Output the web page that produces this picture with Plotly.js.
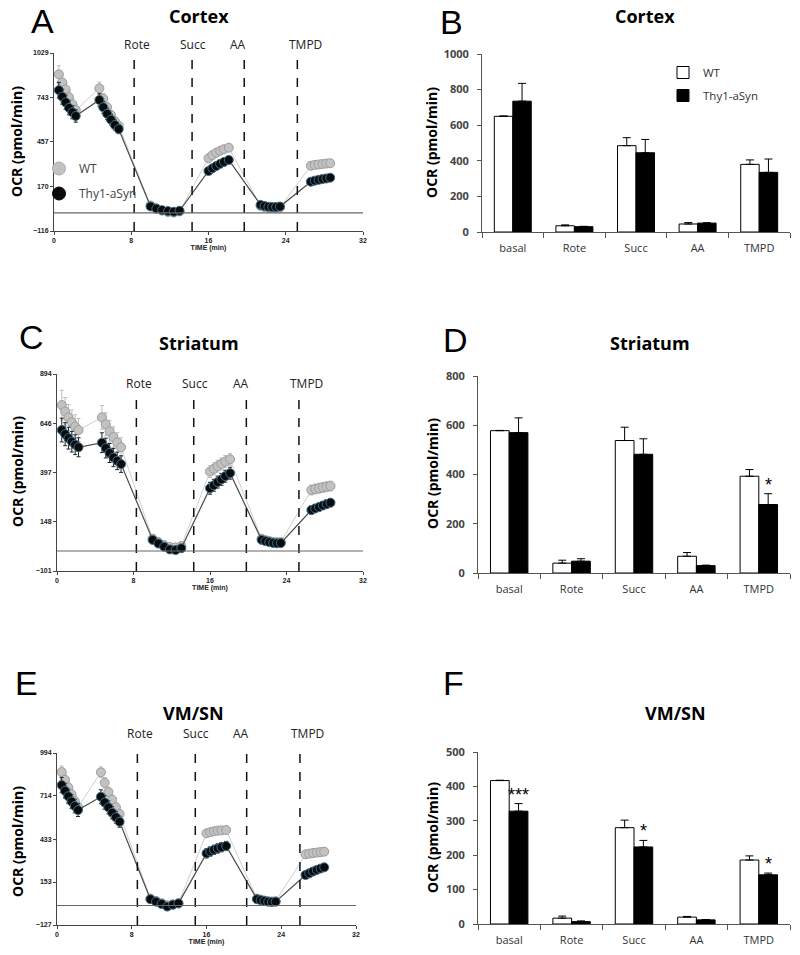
<!DOCTYPE html>
<html>
<head>
<meta charset="utf-8">
<script src="https://cdn.plot.ly/plotly-3.0.1.min.js"></script>
<style>
  body { margin: 0; background: #fff; }
  #plotDiv { width: 800px; height: 955px; }
</style>
</head>
<body>
<div id="plotDiv"></div>
<script>
// ---- time course data (Seahorse OCR, pmol/min) ----
const timeMin = [
    0.5, 0.85, 1.2, 1.55, 1.9, 2.25,
    4.7, 5.1, 5.5, 5.9, 6.3, 6.7,
    10.0, 10.6, 11.2, 11.8, 12.4, 13.0,
    16.0, 16.4, 16.8, 17.2, 17.6, 18.1,
    21.4, 21.8, 22.2, 22.6, 23.0, 23.4,
    26.6, 27.0, 27.4, 27.8, 28.2, 28.6
];

const cortexWT = [
    892, 840, 795, 745, 700, 662,
    802, 735, 680, 630, 590, 562,
    48, 30, 15, 6, 3, 10,
    352, 372, 388, 400, 410, 420,
    45, 38, 34, 32, 33, 36,
    304, 309, 312, 315, 318, 320
];
const cortexWTerr = [
    55, 45, 40, 38, 36, 35,
    40, 35, 32, 30, 28, 26,
    12, 10, 10, 10, 10, 10,
    15, 15, 15, 15, 15, 15,
    10, 10, 10, 10, 10, 10,
    18, 18, 18, 18, 18, 18
];
const cortexTg = [
    790, 748, 712, 676, 648, 624,
    727, 680, 638, 600, 566, 540,
    42, 28, 18, 12, 8, 14,
    270, 287, 302, 316, 328, 341,
    52, 45, 40, 38, 38, 41,
    201, 208, 213, 218, 222, 227
];
const cortexTgErr = [
    50, 48, 45, 45, 42, 40,
    40, 38, 36, 34, 32, 30,
    12, 12, 12, 12, 12, 12,
    15, 15, 15, 15, 15, 15,
    10, 10, 10, 10, 10, 10,
    12, 12, 12, 12, 12, 12
];

const striatumWT = [
    737, 705, 675, 650, 628, 611,
    675, 640, 605, 575, 548, 524,
    62, 45, 30, 20, 18, 25,
    401, 415, 428, 440, 452, 463,
    62, 55, 50, 46, 44, 45,
    308, 313, 317, 321, 325, 328
];
const striatumWTerr = [
    75, 70, 65, 62, 60, 58,
    60, 58, 55, 52, 50, 48,
    20, 20, 20, 20, 20, 20,
    30, 30, 30, 30, 30, 30,
    15, 15, 15, 15, 15, 15,
    25, 25, 25, 25, 25, 25
];
const striatumTg = [
    611, 590, 570, 552, 537, 524,
    547, 520, 495, 472, 455, 439,
    56, 38, 22, 8, 5, 14,
    317, 332, 348, 362, 378, 393,
    56, 50, 45, 41, 39, 40,
    207, 215, 222, 230, 237, 244
];
const striatumTgErr = [
    60, 58, 55, 52, 50, 48,
    50, 50, 48, 46, 44, 42,
    15, 15, 15, 15, 15, 15,
    30, 30, 30, 30, 30, 30,
    12, 12, 12, 12, 12, 12,
    20, 20, 20, 20, 20, 20
];

const vmsnWT = [
    870, 820, 770, 725, 680, 642,
    868, 800, 740, 690, 640, 596,
    45, 30, 15, 2, 8, 14,
    471, 478, 484, 488, 490, 492,
    45, 38, 32, 28, 26, 28,
    334, 338, 342, 345, 348, 351
];
const vmsnWTerr = [
    40, 38, 36, 35, 34, 33,
    35, 34, 32, 30, 30, 28,
    15, 15, 15, 15, 15, 15,
    20, 20, 20, 20, 20, 20,
    12, 12, 12, 12, 12, 12,
    25, 25, 25, 25, 25, 25
];
const vmsnTg = [
    785, 748, 712, 678, 648, 622,
    709, 672, 640, 605, 575, 546,
    41, 25, 10, -7, 5, 14,
    340, 352, 363, 372, 380, 388,
    41, 35, 30, 25, 23, 25,
    199, 210, 222, 232, 241, 249
];
const vmsnTgErr = [
    50, 48, 46, 45, 44, 42,
    45, 44, 42, 40, 38, 36,
    12, 12, 12, 12, 12, 12,
    30, 30, 30, 30, 30, 30,
    10, 10, 10, 10, 10, 10,
    12, 12, 12, 12, 12, 12
];

// injection times (min) and labels
const injectLabels = ['Rote', 'Succ', 'AA', 'TMPD'];
const injectCortex = [8.3, 14.3, 19.7, 25.2];
const injectStriatum = [8.3, 14.3, 19.8, 25.3];
const injectVmsn = [8.6, 14.8, 20.3, 26.0];

// ---- bar chart data ----
const categories = ['basal', 'Rote', 'Succ', 'AA', 'TMPD'];

const barCortexWT = [650, 35, 485, 45, 380];
const barCortexWTerr = [2, 5, 45, 8, 25];
const barCortexTg = [735, 30, 445, 50, 335];
const barCortexTgErr = [100, 2, 75, 2, 75];

const barStriatumWT = [578, 40, 538, 68, 393];
const barStriatumWTerr = [1, 12, 54, 15, 27];
const barStriatumTg = [570, 48, 482, 30, 278];
const barStriatumTgErr = [60, 10, 63, 2, 44];
const starsStriatum = ['', '', '', '', '*'];

const barVmsnWT = [417, 17, 280, 20, 186];
const barVmsnWTerr = [1, 6, 22, 2, 12];
const barVmsnTg = [328, 7, 224, 12, 143];
const barVmsnTgErr = [22, 2, 19, 1, 5];
const starsVmsn = ['***', '', '*', '', '*'];

// ---- page geometry helpers (pixel -> paper) ----
const W = 800, H = 955;
function px(x) { return x / W; }
function py(y) { return 1 - y / H; }

const WT_GRAY = '#c2c2c2';
const TG_BLACK = '#0b0b0b';

function timeAxis(left, right, anchor) {
    return {
        domain: [px(left), px(right)],
        anchor: anchor,
        range: [0, 32],
        tickvals: [0, 8, 16, 24, 32],
        showline: true, linecolor: '#444', linewidth: 1,
        ticks: 'outside', ticklen: 3, tickcolor: '#444',
        tickfont: {size: 7, family: 'Liberation Sans', weight: 'bold', color: '#222'},
        title: {text: 'TIME (min)', font: {size: 7, family: 'Liberation Sans', weight: 'bold', color: '#222'}, standoff: 1},
        showgrid: false, zeroline: false
    };
}

function ocrAxis(top, bottom, anchor, range, ticks) {
    return {
        domain: [py(bottom), py(top)],
        anchor: anchor,
        range: range,
        tickvals: ticks,
        showline: true, linecolor: '#444', linewidth: 1,
        ticks: 'outside', ticklen: 3, tickcolor: '#444',
        tickfont: {size: 7, family: 'Liberation Sans', weight: 'bold', color: '#222'},
        showgrid: false, zeroline: false
    };
}

function catAxis(left, right, anchor) {
    return {
        domain: [px(left), px(right)],
        anchor: anchor,
        type: 'category',
        tickson: 'boundaries',
        showline: true, linecolor: '#555', linewidth: 1,
        ticks: 'outside', ticklen: 5, tickcolor: '#555',
        ticklabelstandoff: 6,
        tickfont: {size: 11, family: 'Open Sans', color: '#333'},
        showgrid: false, zeroline: false
    };
}

function barYAxis(top, bottom, anchor, max, dtick) {
    return {
        domain: [py(bottom), py(top)],
        anchor: anchor,
        range: [0, max],
        dtick: dtick,
        showline: true, linecolor: '#555', linewidth: 1,
        ticks: 'outside', ticklen: 4, tickcolor: '#555',
        ticklabelstandoff: 6,
        tickfont: {size: 11, family: 'Open Sans', weight: 'bold', color: '#444'},
        showgrid: false, zeroline: false
    };
}

function courseTraces(xa, ya, wt, wtErr, tg, tgErr) {
    return [
        {
            x: timeMin, y: wt, xaxis: xa, yaxis: ya,
            type: 'scatter', mode: 'lines+markers', showlegend: false,
            line: {color: '#cfcfcf', width: 1},
            marker: {size: 9, color: WT_GRAY, line: {color: '#9c9c9c', width: 1}},
            error_y: {type: 'data', array: wtErr, color: '#bdbdbd', thickness: 1, width: 2}
        },
        {
            x: timeMin, y: tg, xaxis: xa, yaxis: ya,
            type: 'scatter', mode: 'lines+markers', showlegend: false,
            line: {color: '#4a4a4a', width: 1.2},
            marker: {size: 9, color: TG_BLACK, line: {color: '#3d6f8c', width: 1}},
            error_y: {type: 'data', array: tgErr, color: '#222', thickness: 1, width: 2}
        }
    ];
}

function barTraces(xa, ya, wt, wtErr, tg, tgErr, withLegend) {
    return [
        {
            x: categories, y: wt, xaxis: xa, yaxis: ya, type: 'bar', name: 'WT',
            showlegend: withLegend, legend: 'legend2', legendgroup: 'wtb',
            marker: {color: '#ffffff', line: {color: '#000', width: 1}},
            error_y: {type: 'data', symmetric: false, array: wtErr, arrayminus: wtErr.map(() => 0),
                      color: '#000', thickness: 1, width: 4}
        },
        {
            x: categories, y: tg, xaxis: xa, yaxis: ya, type: 'bar', name: 'Thy1-aSyn',
            showlegend: withLegend, legend: 'legend2', legendgroup: 'tgb',
            marker: {color: '#000', line: {color: '#000', width: 1}},
            error_y: {type: 'data', symmetric: false, array: tgErr, arrayminus: tgErr.map(() => 0),
                      color: '#000', thickness: 1, width: 4}
        }
    ];
}

const traces = [
    ...courseTraces('x', 'y', cortexWT, cortexWTerr, cortexTg, cortexTgErr),
    ...courseTraces('x3', 'y3', striatumWT, striatumWTerr, striatumTg, striatumTgErr),
    ...courseTraces('x5', 'y5', vmsnWT, vmsnWTerr, vmsnTg, vmsnTgErr),
    // legend entries for the time course (panel A)
    {x: [null], y: [null], xaxis: 'x', yaxis: 'y', type: 'scatter', mode: 'markers', name: 'WT',
     legendgroup: 'wt', marker: {size: 13, color: WT_GRAY, line: {color: '#aaa', width: 1}}},
    {x: [null], y: [null], xaxis: 'x', yaxis: 'y', type: 'scatter', mode: 'markers', name: 'Thy1-aSyn',
     legendgroup: 'tg', marker: {size: 13, color: TG_BLACK, line: {color: '#000', width: 1}}},
    ...barTraces('x2', 'y2', barCortexWT, barCortexWTerr, barCortexTg, barCortexTgErr, true),
    ...barTraces('x4', 'y4', barStriatumWT, barStriatumWTerr, barStriatumTg, barStriatumTgErr, false),
    ...barTraces('x6', 'y6', barVmsnWT, barVmsnWTerr, barVmsnTg, barVmsnTgErr, false)
];

// ---- annotations: panel letters, titles, axis titles, injection labels, stars ----
const annotations = [];
function paperText(text, x, y, font, extra) {
    annotations.push(Object.assign({
        text: text, xref: 'paper', yref: 'paper', x: px(x), y: py(y),
        xanchor: 'center', yanchor: 'middle', showarrow: false, font: font
    }, extra || {}));
}

const letterFont = {size: 34, family: 'Liberation Sans', color: '#000'};
const titleFont = {size: 18, family: 'Open Sans', weight: 'bold', color: '#000'};
const ocrFont = {size: 14, family: 'Open Sans', weight: 'bold', color: '#000'};

[['A', 42, 21], ['B', 452, 22], ['C', 31, 337], ['D', 455, 340], ['E', 26, 683], ['F', 453, 683]]
    .forEach(l => paperText(l[0], l[1], l[2], letterFont));

[['Cortex', 199, 16], ['Cortex', 645, 16], ['Striatum', 199, 343], ['Striatum', 650, 343],
 ['VM/SN', 193, 713], ['VM/SN', 675, 713]]
    .forEach(t => paperText(t[0], t[1], t[2], titleFont));

[[17, 142], [432, 143], [17, 472], [432, 474], [17, 842], [432, 838]]
    .forEach(p => paperText('OCR (pmol/min)', p[0], p[1], ocrFont, {textangle: -90}));

const labelShift = [0.3, 0.1, -0.6, 0.8];
function injectLabelsFor(xa, times, yPix) {
    times.forEach((t, i) => {
        annotations.push({
            text: injectLabels[i], xref: xa, yref: 'paper', x: t + labelShift[i], y: py(yPix),
            xanchor: 'center', yanchor: 'middle', showarrow: false,
            font: {size: 12, family: 'Open Sans', color: '#222'}
        });
    });
}
injectLabelsFor('x', injectCortex, 45);
injectLabelsFor('x3', injectStriatum, 383);
injectLabelsFor('x5', injectVmsn, 733);

function starsFor(xa, ya, stars, vals, errs) {
    stars.forEach((s, i) => {
        if (!s) return;
        annotations.push({
            text: s, xref: xa, yref: ya, x: i + 0.15, y: vals[i] + errs[i],
            xanchor: 'center', yanchor: 'bottom', showarrow: false, yshift: -3,
            font: {size: 18, family: 'Liberation Sans', color: '#000'}
        });
    });
}
starsFor('x4', 'y4', starsStriatum, barStriatumTg, barStriatumTgErr);
starsFor('x6', 'y6', starsVmsn, barVmsnTg, barVmsnTgErr);

// ---- shapes: injection markers and zero lines ----
const shapes = [];
function injectLines(xa, ya, times, top) {
    times.forEach(t => {
        shapes.push({type: 'line', xref: xa, yref: ya + ' domain', x0: t, x1: t, y0: 0, y1: top,
                     line: {color: '#111', width: 1.5, dash: 'dash'}});
    });
    shapes.push({type: 'line', xref: xa + ' domain', yref: ya, x0: 0, x1: 1, y0: 0, y1: 0,
                 line: {color: '#666', width: 1.2}});
}
injectLines('x', 'y', injectCortex, 1);
injectLines('x3', 'y3', injectStriatum, 0.9);
injectLines('x5', 'y5', injectVmsn, 1.02);

const layout = {
    width: W, height: H,
    margin: {l: 0, r: 0, t: 0, b: 0},
    paper_bgcolor: '#fff', plot_bgcolor: '#fff',
    barmode: 'group', bargap: 0.4, bargroupgap: 0,
    xaxis: timeAxis(54, 363, 'y'),
    yaxis: ocrAxis(53, 231, 'x', [-116, 1029], [-116, 170, 457, 743, 1029]),
    xaxis2: catAxis(482, 790, 'y2'),
    yaxis2: barYAxis(54, 232, 'x2', 1000, 200),
    xaxis3: timeAxis(57, 363, 'y3'),
    yaxis3: ocrAxis(374, 571, 'x3', [-101, 894], [-101, 148, 397, 646, 894]),
    xaxis4: catAxis(478, 790, 'y4'),
    yaxis4: barYAxis(376, 573, 'x4', 800, 200),
    xaxis5: timeAxis(57, 356, 'y5'),
    yaxis5: ocrAxis(753, 925, 'x5', [-127, 994], [-127, 153, 433, 714, 994]),
    xaxis6: catAxis(478, 790, 'y6'),
    yaxis6: barYAxis(752, 924, 'x6', 500, 100),
    legend: {
        x: px(39), y: py(154), xanchor: 'left', yanchor: 'top',
        traceorder: 'grouped', tracegroupgap: 6,
        bgcolor: 'rgba(0,0,0,0)',
        font: {size: 12, family: 'Open Sans', color: '#444'}
    },
    legend2: {
        x: px(663), y: py(58), xanchor: 'left', yanchor: 'top',
        traceorder: 'grouped', tracegroupgap: 4,
        bgcolor: 'rgba(0,0,0,0)',
        font: {size: 11.5, family: 'Open Sans', color: '#333'}
    },
    annotations: annotations,
    shapes: shapes
};

Plotly.newPlot('plotDiv', traces, layout, {displayModeBar: false});
</script>
</body>
</html>
